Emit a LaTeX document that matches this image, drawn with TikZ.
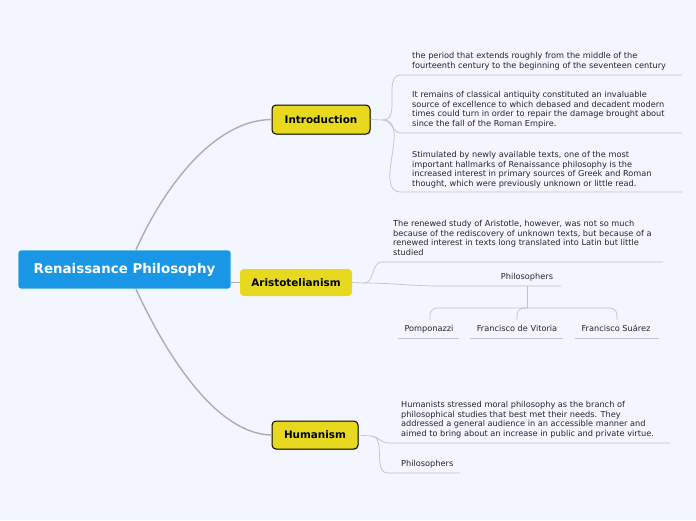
\documentclass[tikz,border=0pt]{standalone}
\usepackage{fontspec}
\setmainfont{DejaVu Sans}
\usetikzlibrary{positioning, shadows}
\definecolor{pagebg}{HTML}{F3F6FE}
\definecolor{rootblue}{HTML}{1A96E6}
\definecolor{topicyellow}{HTML}{E6D91E}
\definecolor{branchgray}{HTML}{ADADAD}
\definecolor{twiggray}{HTML}{C2C2CA}
\tikzset{
    x=1pt, y=-1pt, % one unit is one pixel of the map, y grows downwards
    root/.style={fill=rootblue, draw=white, line width=0.6pt, text=white, rounded corners=3pt,
        minimum width=213pt, minimum height=39pt, font=\fontsize{13.4}{16}\selectfont\bfseries},
    topic/.style={fill=topicyellow, rounded corners=4pt, inner sep=0pt,
        font=\fontsize{10.4}{12}\selectfont\bfseries}, % the yellow boxes
    outlined/.style={draw=black, line width=1pt,
        drop shadow={opacity=0.3, shadow xshift=1pt, shadow yshift=-1.2pt}},
    leaf/.style={font=\fontsize{8.2}{9.7}\selectfont, align=left, anchor=north west,
        inner sep=0pt, text=black!85}, % free text on a line
    leafword/.style={font=\fontsize{8.2}{9.7}\selectfont, anchor=base, inner sep=0pt, text=black!85},
    branch/.style={draw=branchgray, line width=1.4pt},
    twig/.style={draw=twiggray, line width=0.7pt},
}
\begin{document}
\begin{tikzpicture}
\path[use as bounding box, fill=pagebg] (0,0) rectangle (696,520);

% main topics
\node[root] (renaissance) at (124.5,269.5) {Renaissance Philosophy};
\node[topic, outlined, minimum width=98pt, minimum height=29pt] (intro) at (321,119.5) {Introduction};
\node[topic, minimum width=112pt, minimum height=27pt] (aristo) at (296,282.5) {Aristotelianism};
\node[topic, outlined, minimum width=86pt, minimum height=28pt] (humanism) at (315,435) {Humanism};

% texts of the introduction
\node[leaf] (period) at (412,52) {the period that extends roughly from the middle of the\\fourteenth century to the beginning of the seventeen century};
\node[leaf] (antiquity) at (412,91) {It remains of classical antiquity constituted an invaluable\\source of excellence to which debased and decadent modern\\times could turn in order to repair the damage brought about\\since the fall of the Roman Empire.};
\node[leaf] (texts) at (412,151) {Stimulated by newly available texts, one of the most\\important hallmarks of Renaissance philosophy is the\\increased interest in primary sources of Greek and Roman\\thought, which were previously unknown or little read.};

% texts of aristotelianism
\node[leaf] (aristotle) at (393,220) {The renewed study of Aristotle, however, was not so much\\because of the rediscovery of unknown texts, but because of a\\renewed interest in texts long translated into Latin but little\\studied};
\node[leafword] (aphil) at (527,279) {Philosophers};
\node[leafword] (pomponazzi) at (429,331) {Pomponazzi};
\node[leafword] (vitoria) at (517,331) {Francisco de Vitoria};
\node[leafword] (suarez) at (616,331) {Francisco Suárez};

% texts of humanism
\node[leaf] (moral) at (401,401) {Humanists stressed moral philosophy as the branch of\\philosophical studies that best met their needs. They\\addressed a general audience in an accessible manner and\\aimed to bring about an increase in public and private virtue.};
\node[leaf] (hphil) at (401,460) {Philosophers};

% ends of the lines under the texts
\coordinate (introfork) at (383,120);
\coordinate (period-l) at (401,75);    \coordinate (period-r) at (682,75);
\coordinate (antiquity-l) at (401,133); \coordinate (antiquity-r) at (682,133);
\coordinate (texts-l) at (401,192);    \coordinate (texts-r) at (682,192);
\coordinate (aristofork) at (364,283);
\coordinate (aristotle-l) at (382,262); \coordinate (aristotle-r) at (663,262);
\coordinate (aphil-l) at (440,286);    \coordinate (aphil-r) at (561,286);
\coordinate (aphil-hub) at (527,286);  \coordinate (hub) at (527,308);
\coordinate (pomponazzi-top) at (430,320);
\coordinate (vitoria-top) at (517,320);
\coordinate (suarez-top) at (617,320);
\coordinate (humfork) at (371,436);
\coordinate (moral-l) at (388,443);    \coordinate (moral-r) at (670,443);
\coordinate (hphil-l) at (388,473);    \coordinate (hphil-r) at (460,473);

% branches from the root
\draw[branch] ([xshift=11.5pt]renaissance.north) .. controls (165,185) and (215,120) .. (intro.west);
\draw[branch] ([xshift=11.5pt]renaissance.south) .. controls (165,352) and (215,434) .. (humanism.west);
\draw[branch] (renaissance.east |- aristo.west) -- (aristo.west);

% introduction
\draw[twig] (intro.east) -- (introfork);
\draw[twig] (introfork) to[out=0, in=180] (period-l) -- (period-r);
\draw[twig] (introfork) to[out=0, in=180] (antiquity-l) -- (antiquity-r);
\draw[twig] (introfork) to[out=0, in=180] (texts-l) -- (texts-r);

% aristotelianism
\draw[twig] (aristo.east) -- (aristofork) to[out=0, in=180] (aristotle-l) -- (aristotle-r);
\draw[twig] (aristofork) to[out=0, in=180] (aphil-l) -- (aphil-r);
\draw[twig] (aphil-hub) -- (hub);
\draw[twig, rounded corners=7pt] (pomponazzi-top) |- (hub) -| (suarez-top);
\draw[twig, rounded corners=7pt] (vitoria-top) |- (hub);
\draw[twig] (pomponazzi.base -| 398,0) ++(0,7) -- ++(61,0);
\draw[twig] (vitoria.base -| 470,0) ++(0,7) -- ++(93,0);
\draw[twig] (suarez.base -| 575,0) ++(0,7) -- ++(84,0);

% humanism
\draw[twig] (humanism.east) -- (humfork) to[out=0, in=180] (moral-l) -- (moral-r);
\draw[twig] (humfork) to[out=0, in=180] (hphil-l) -- (hphil-r);
\end{tikzpicture}
\end{document}
